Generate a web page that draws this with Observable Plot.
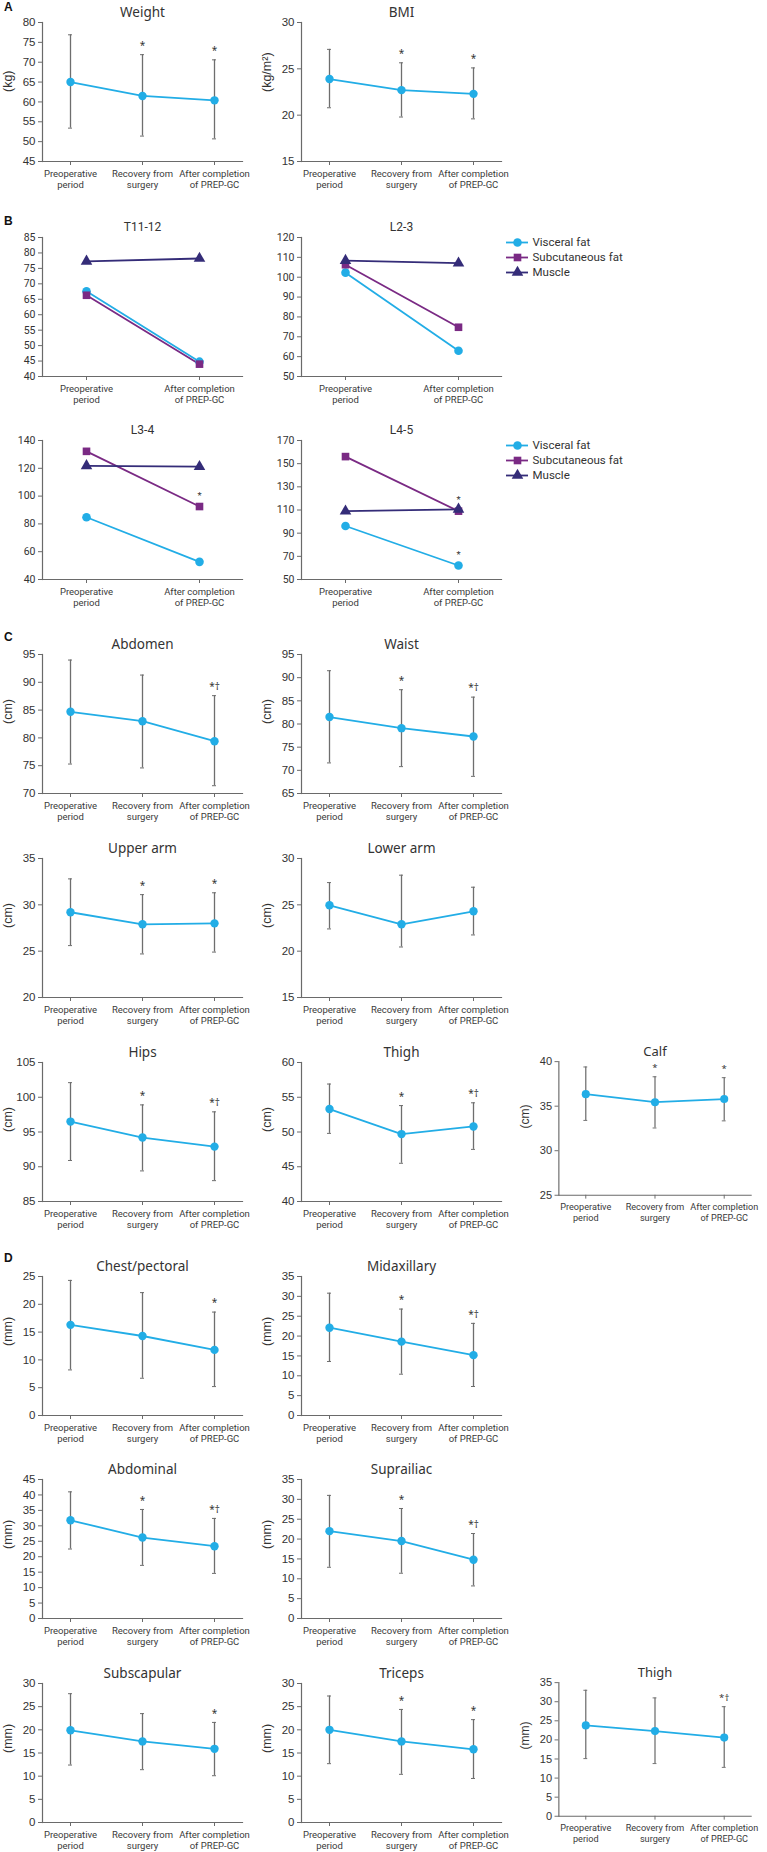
<!DOCTYPE html>
<html>
<head>
<meta charset="utf-8">
<script src="https://cdn.jsdelivr.net/npm/d3@7"></script>
<script src="https://cdn.jsdelivr.net/npm/@observablehq/plot@0.6"></script>
<style>
  html, body { margin: 0; padding: 0; background: #fff; }
  #root { position: relative; width: 767px; height: 1852px; overflow: hidden; font-family: "Noto Sans", "Liberation Sans", sans-serif; }
  .panel { position: absolute; }
  .letter { position: absolute; font-family: "Liberation Sans", Arial, sans-serif; font-weight: bold; font-size: 12px; color: #111; line-height: 1; }
</style>
</head>
<body>
<div id="root"></div>
<script>
// ---------- categories ----------
const periods3 = ["Preoperative\nperiod", "Recovery from\nsurgery", "After completion\nof PREP-GC"];
const periods2 = ["Preoperative\nperiod", "After completion\nof PREP-GC"];
const seriesNames = ["Visceral fat", "Subcutaneous fat", "Muscle"];
const seriesColors = ["#22ade6", "#7a2a84", "#342c78"];
const seriesSymbols = ["circle", "square", "triangle"];

// ---------- A ----------
const weight = { mean: [65.0, 61.5, 60.4], low: [53.4, 51.4, 50.7], high: [76.9, 71.9, 70.6], sig: ["", "*", "*"] };
const bmi = { mean: [23.9, 22.7, 22.3], low: [20.8, 19.8, 19.6], high: [27.1, 25.65, 25.1], sig: ["", "*", "*"] };
const weightTicks = [45, 50, 55, 60, 65, 70, 75, 80];
const bmiTicks = [15, 20, 25, 30];

// ---------- B (visceral, subcutaneous, muscle; pre / after) ----------
const t1112 = { visc: [67.6, 44.8], subc: [66.3, 44.0], musc: [77.3, 78.2], sig: [["", ""], ["", ""], ["", ""]] };
const l23 = { visc: [102.3, 63.0], subc: [106.3, 74.8], musc: [108.4, 107.1], sig: [["", ""], ["", ""], ["", ""]] };
const l34 = { visc: [84.8, 52.7], subc: [132.2, 92.5], musc: [121.8, 121.2], sig: [["", ""], ["", "*"], ["", ""]] };
const l45 = { visc: [96.2, 62.1], subc: [156.1, 109.0], musc: [109.0, 110.6], sig: [["", "*"], ["", "*"], ["", ""]] };
const t1112Ticks = [40, 45, 50, 55, 60, 65, 70, 75, 80, 85];
const l23Ticks = [50, 60, 70, 80, 90, 100, 110, 120];
const l34Ticks = [40, 60, 80, 100, 120, 140];
const l45Ticks = [50, 70, 90, 110, 130, 150, 170];

// ---------- C ----------
const abdomen = { mean: [84.7, 83.0, 79.4], low: [75.3, 74.6, 71.4], high: [94.0, 91.3, 87.6], sig: ["", "", "*†"] };
const waist = { mean: [81.5, 79.1, 77.3], low: [71.6, 70.8, 68.7], high: [91.5, 87.4, 85.8], sig: ["", "*", "*†"] };
const upperArm = { mean: [29.2, 27.9, 28.0], low: [25.6, 24.7, 24.9], high: [32.8, 31.1, 31.3], sig: ["", "*", "*"] };
const lowerArm = { mean: [24.95, 22.9, 24.3], low: [22.4, 20.45, 21.75], high: [27.4, 28.2, 26.9], sig: ["", "", ""] };
const hips = { mean: [96.5, 94.2, 92.9], low: [90.9, 89.4, 88.0], high: [102.1, 98.9, 97.9], sig: ["", "*", "*†"] };
const thighC = { mean: [53.3, 49.7, 50.8], low: [49.8, 45.5, 47.5], high: [56.9, 53.8, 54.2], sig: ["", "*", "*†"] };
const calf = { mean: [36.35, 35.45, 35.8], low: [33.4, 32.55, 33.35], high: [39.4, 38.3, 38.2], sig: ["", "*", "*"] };
const abdomenTicks = [70, 75, 80, 85, 90, 95];
const waistTicks = [65, 70, 75, 80, 85, 90, 95];
const upperArmTicks = [20, 25, 30, 35];
const lowerArmTicks = [15, 20, 25, 30];
const hipsTicks = [85, 90, 95, 100, 105];
const thighCTicks = [40, 45, 50, 55, 60];
const calfTicks = [25, 30, 35, 40];

// ---------- D ----------
const chest = { mean: [16.3, 14.3, 11.8], low: [8.2, 6.7, 5.2], high: [24.3, 22.1, 18.6], sig: ["", "", "*"] };
const midaxillary = { mean: [22.1, 18.6, 15.2], low: [13.6, 10.4, 7.3], high: [30.8, 26.8, 23.2], sig: ["", "*", "*†"] };
const abdominal = { mean: [31.8, 26.2, 23.4], low: [22.5, 17.2, 14.6], high: [41.0, 35.3, 32.4], sig: ["", "*", "*†"] };
const suprailiac = { mean: [22.0, 19.5, 14.8], low: [12.9, 11.4, 8.2], high: [31.0, 27.7, 21.4], sig: ["", "*", "*†"] };
const subscapular = { mean: [19.9, 17.5, 15.9], low: [12.4, 11.4, 10.1], high: [27.8, 23.5, 21.6], sig: ["", "", "*"] };
const triceps = { mean: [20.0, 17.5, 15.8], low: [12.7, 10.4, 9.5], high: [27.3, 24.4, 22.2], sig: ["", "*", "*"] };
const thighD = { mean: [23.8, 22.3, 20.6], low: [15.1, 13.8, 12.8], high: [33.0, 31.0, 28.7], sig: ["", "", "*†"] };
const ticks25 = [0, 5, 10, 15, 20, 25];
const ticks30 = [0, 5, 10, 15, 20, 25, 30];
const ticks35 = [0, 5, 10, 15, 20, 25, 30, 35];
const ticks45 = [0, 5, 10, 15, 20, 25, 30, 35, 40, 45];

// ---------- drawing ----------
const BLUE = "#22ade6";
const ERR = "#6e6e6e";
const AX = "#6a6a6a";
const FONT = "'Noto Sans', 'Liberation Sans', sans-serif";
const XFONT = "Roboto, 'Noto Sans', sans-serif";
const NUMFONT = "'Liberation Sans', Arial, sans-serif";
const root = document.getElementById("root");

function place(node, left, top) {
  const div = document.createElement("div");
  div.className = "panel";
  div.style.left = left + "px";
  div.style.top = top + "px";
  div.appendChild(node);
  root.appendChild(div);
}
function letter(t, left, top) {
  const div = document.createElement("div");
  div.className = "letter";
  div.textContent = t;
  div.style.left = left + "px";
  div.style.top = top + "px";
  root.appendChild(div);
}

function frameMarks() {
  return [
    Plot.frame({ anchor: "left", stroke: AX, strokeWidth: 1.2 }),
    Plot.frame({ anchor: "bottom", stroke: AX, strokeWidth: 1.2 })
  ];
}

function errPanel(title, unit, d, domain, ticks) {
  const rows = periods3.map((p, i) => ({ p, mean: d.mean[i], low: d.low[i], high: d.high[i], sig: d.sig[i] }));
  return Plot.plot({
    width: 259, height: 205,
    marginTop: 22, marginBottom: 44, marginLeft: 42, marginRight: 17,
    style: { fontFamily: FONT, fontSize: "10px", color: "#333", background: "transparent" },
    x: { type: "point", domain: periods3, padding: 0.38 },
    y: { domain },
    marks: [
      ...frameMarks(),
      Plot.axisX({ tickSize: 4, tickPadding: 3, label: null, stroke: AX, lineHeight: 1.2, fontFamily: XFONT, fontSize: 9.5, fill: "#3a3a3a" }),
      Plot.axisY({ ticks, tickSize: 4, tickPadding: 3, stroke: AX, label: null, fontFamily: NUMFONT, fontSize: 11.5, fill: "#333" }),
      Plot.text([unit], { frameAnchor: "left", text: (t) => t, rotate: -90, dx: -35, fontFamily: NUMFONT, fontSize: 12.5, fill: "#333" }),
      Plot.ruleX(rows, { x: "p", y1: "low", y2: "high", stroke: ERR, strokeWidth: 1.3 }),
      Plot.ruleY(rows, { x1: "p", x2: "p", y: "low", stroke: ERR, strokeWidth: 1, insetLeft: -2, insetRight: -2 }),
      Plot.ruleY(rows, { x1: "p", x2: "p", y: "high", stroke: ERR, strokeWidth: 1, insetLeft: -2, insetRight: -2 }),
      Plot.line(rows, { x: "p", y: "mean", stroke: BLUE, strokeWidth: 1.8 }),
      Plot.dot(rows, { x: "p", y: "mean", r: 4.2, fill: BLUE, stroke: null }),
      Plot.text(rows, { x: "p", y: "high", text: "sig", dy: -9, fontSize: 10, fill: "#333" }),
      Plot.text([title], { frameAnchor: "top", text: (t) => t, dy: -15, fontSize: 13.5, fontWeight: 400, fill: "#333" })
    ]
  });
}

function bPanel(title, d, domain, ticks) {
  const rows = [];
  const vals = [d.visc, d.subc, d.musc];
  seriesNames.forEach((s, k) => periods2.forEach((p, i) => rows.push({ s, p, v: vals[k][i], sig: d.sig[k][i] })));
  return Plot.plot({
    width: 259, height: 205,
    marginTop: 22, marginBottom: 44, marginLeft: 42, marginRight: 17,
    style: { fontFamily: XFONT, fontSize: "10px", color: "#333", background: "transparent" },
    x: { type: "point", domain: periods2, padding: 0.38 },
    y: { domain },
    color: { domain: seriesNames, range: seriesColors },
    symbol: { domain: seriesNames, range: seriesSymbols },
    marks: [
      ...frameMarks(),
      Plot.axisX({ tickSize: 4, tickPadding: 3, label: null, stroke: AX, lineHeight: 1.2, fontSize: 9.5, fill: "#3a3a3a" }),
      Plot.axisY({ ticks, tickSize: 4, tickPadding: 3, stroke: AX, label: null, fontSize: 10.5, fill: "#333" }),
      Plot.line(rows, { x: "p", y: "v", z: "s", stroke: "s", strokeWidth: 1.8 }),
      Plot.dot(rows, { x: "p", y: "v", symbol: "s", fill: "s", stroke: null, r: 4.3 }),
      Plot.text(rows.filter((r) => r.sig), { x: "p", y: "v", text: "sig", dy: -11, fontSize: 9.5, fill: "#333" }),
      Plot.text([title], { frameAnchor: "top", text: (t) => t, dy: -15, fontSize: 12, fontWeight: 400, fill: "#333" })
    ]
  });
}

function legendPlot() {
  return Plot.plot({
    width: 140, height: 45, margin: 0,
    style: { fontFamily: XFONT, fontSize: "11.5px", color: "#333", background: "transparent" },
    x: { axis: null },
    y: { type: "point", domain: seriesNames, padding: 0.5, axis: null },
    color: { domain: seriesNames, range: seriesColors },
    symbol: { domain: seriesNames, range: seriesSymbols },
    marks: [
      Plot.ruleY(seriesNames, { y: (s) => s, stroke: (s) => s, strokeWidth: 1.8, insetRight: 118 }),
      Plot.dot(seriesNames, { y: (s) => s, frameAnchor: "left", dx: 11, symbol: (s) => s, fill: (s) => s, r: 4.3 }),
      Plot.text(seriesNames, { y: (s) => s, frameAnchor: "left", dx: 26, text: (s) => s, textAnchor: "start", fill: "#333" })
    ]
  });
}

const C0 = 0, C1 = 259, C2 = 518;

// A
letter("A", 4, 1);
place(errPanel("Weight", "(kg)", weight, [45, 80], weightTicks), C0, 0);
place(errPanel("BMI", "(kg/m²)", bmi, [15, 30], bmiTicks), C1, 0);

// B
letter("B", 4, 215);
place(bPanel("T11-12", t1112, [40, 85], t1112Ticks), C0, 215);
place(bPanel("L2-3", l23, [50, 120], l23Ticks), C1, 215);
place(legendPlot(), 506, 234);
place(bPanel("L3-4", l34, [40, 140], l34Ticks), C0, 418);
place(bPanel("L4-5", l45, [50, 170], l45Ticks), C1, 418);
place(legendPlot(), 506, 437);

// C
letter("C", 4, 631);
place(errPanel("Abdomen", "(cm)", abdomen, [70, 95], abdomenTicks), C0, 632);
place(errPanel("Waist", "(cm)", waist, [65, 95], waistTicks), C1, 632);
place(errPanel("Upper arm", "(cm)", upperArm, [20, 35], upperArmTicks), C0, 836);
place(errPanel("Lower arm", "(cm)", lowerArm, [15, 30], lowerArmTicks), C1, 836);
place(errPanel("Hips", "(cm)", hips, [85, 105], hipsTicks), C0, 1040);
place(errPanel("Thigh", "(cm)", thighC, [40, 60], thighCTicks), C1, 1040);
place(errPanel("Calf", "(cm)", calf, [25, 40], calfTicks), C2, 1040);

// D
letter("D", 4, 1252);
place(errPanel("Chest/pectoral", "(mm)", chest, [0, 25], ticks25), C0, 1254);
place(errPanel("Midaxillary", "(mm)", midaxillary, [0, 35], ticks35), C1, 1254);
place(errPanel("Abdominal", "(mm)", abdominal, [0, 45], ticks45), C0, 1457);
place(errPanel("Suprailiac", "(mm)", suprailiac, [0, 35], ticks35), C1, 1457);
place(errPanel("Subscapular", "(mm)", subscapular, [0, 30], ticks30), C0, 1661);
place(errPanel("Triceps", "(mm)", triceps, [0, 30], ticks30), C1, 1661);
place(errPanel("Thigh", "(mm)", thighD, [0, 35], ticks35), C2, 1661);
</script>
</body>
</html>
